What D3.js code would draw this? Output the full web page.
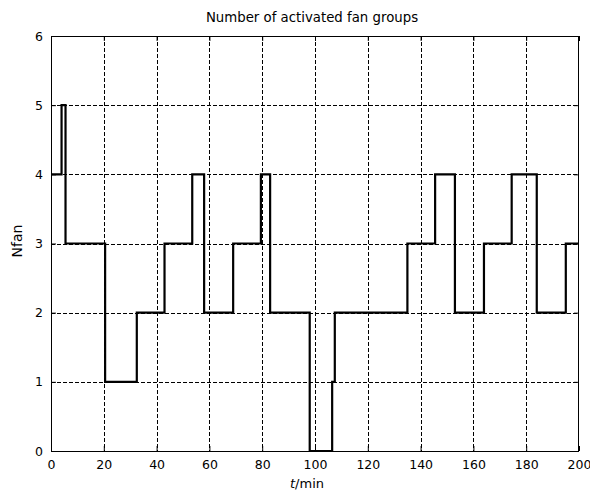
<!DOCTYPE html>
<html><head><meta charset="utf-8">
<script src="https://cdn.jsdelivr.net/npm/d3@7"></script>
<style>body{margin:0;background:#fff;} svg{display:block;} text{font-family:"DejaVu Sans",sans-serif;}</style>
</head><body>
<svg id="c" width="590" height="497"></svg>
<script>
const times  = [0, 4, 5.5, 20.5, 32.5, 43, 53.5, 58, 69, 79.5, 83, 98, 106.5, 107.5, 135, 145.5, 153, 164, 174.5, 184, 195, 200];
const nfan   = [4, 5, 3,   1,    2,    3,  4,    2,  3,  4,    2,  0,  1,     2,     3,   4,     2,   3,   4,     2,   3,   3];
const xTicks = [0, 20, 40, 60, 80, 100, 120, 140, 160, 180, 200];
const yTicks = [0, 1, 2, 3, 4, 5, 6];
const title = "Number of activated fan groups";

const svg = d3.select("#c");
const L = 51, R = 579, T = 36, B = 451;
const x = d3.scaleLinear().domain([0, 200]).range([L, R]);
const y = d3.scaleLinear().domain([0, 6]).range([B, T]);
const FF = '"DejaVu Sans",sans-serif';

const g = svg.append("g");
// grid
g.selectAll(".gx").data(xTicks.slice(1, -1)).join("line")
  .attr("x1", d => Math.round(x(d)) + 0.5).attr("x2", d => Math.round(x(d)) + 0.5)
  .attr("y1", T).attr("y2", B)
  .attr("stroke", "#000").attr("stroke-width", 1).attr("stroke-dasharray", "4,2");
g.selectAll(".gy").data(yTicks.slice(1, -1)).join("line")
  .attr("y1", d => Math.round(y(d)) + 0.5).attr("y2", d => Math.round(y(d)) + 0.5)
  .attr("x1", L).attr("x2", R)
  .attr("stroke", "#000").attr("stroke-width", 1).attr("stroke-dasharray", "4,2");

// axes with inward ticks
const fmt = d3.format("d");
const ax = svg.append("g").attr("transform", `translate(0,${B})`)
  .call(d3.axisBottom(x).tickValues(xTicks).tickFormat(fmt).tickSizeInner(-5).tickSizeOuter(0).tickPadding(9));
const axT = svg.append("g").attr("transform", `translate(0,${T})`)
  .call(d3.axisTop(x).tickValues(xTicks).tickSizeInner(-5).tickSizeOuter(0).tickFormat(""));
const ay = svg.append("g").attr("transform", `translate(${L},0)`)
  .call(d3.axisLeft(y).tickValues(yTicks).tickFormat(fmt).tickSizeInner(-5).tickSizeOuter(0).tickPadding(8));
const ayR = svg.append("g").attr("transform", `translate(${R},0)`)
  .call(d3.axisRight(y).tickValues(yTicks).tickSizeInner(-5).tickSizeOuter(0).tickFormat(""));
[ax, axT, ay, ayR].forEach(a => {
  a.select(".domain").remove();
  a.selectAll("line").attr("stroke", "#000");
  a.selectAll("text").attr("fill", "#000").style("font-size", "12.5px").style("font-family", FF);
});
// frame
svg.append("rect").attr("x", L + 0.5).attr("y", T + 0.5).attr("width", R - L - 1).attr("height", B - T)
  .attr("fill", "none").attr("stroke", "#000").attr("stroke-width", 1);

// step line
const pts = times.map((t, i) => [t, nfan[i]]);
const line = d3.line().x(d => x(d[0])).y(d => y(d[1])).curve(d3.curveStepAfter);
svg.append("path").datum(pts).attr("d", line)
  .attr("fill", "none").attr("stroke", "#000").attr("stroke-width", 2.2).attr("stroke-linejoin", "miter");

// labels
svg.append("text").attr("x", 312).attr("y", 22).attr("text-anchor", "middle")
  .style("font-size", "13.3px").text(title);
const xl = svg.append("text").attr("x", 307).attr("y", 488).attr("text-anchor", "middle").style("font-size", "13px");
xl.append("tspan").style("font-style", "italic").text("t");
xl.append("tspan").text("/min");
svg.append("text").attr("transform", `translate(22,241) rotate(-90)`).attr("text-anchor", "middle")
  .style("font-size", "14px").text("Nfan");
</script>
</body></html>
